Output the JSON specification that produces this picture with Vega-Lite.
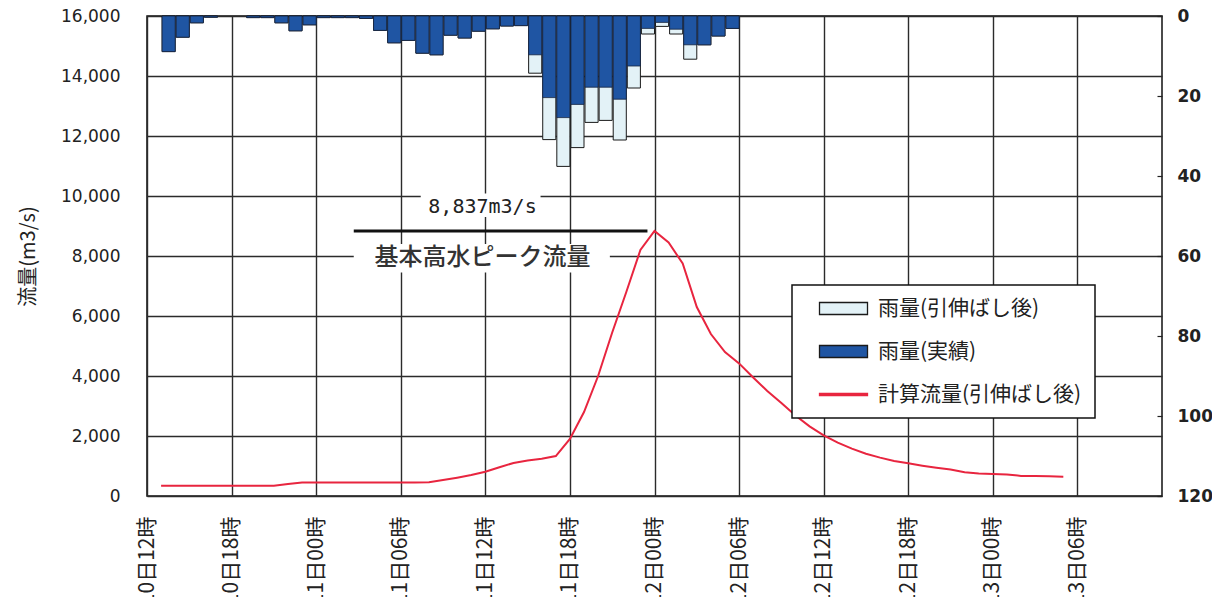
{
  "$schema": "https://vega.github.io/schema/vega-lite/v6.json",
  "width": 1015,
  "height": 480,
  "autosize": "none",
  "padding": {"left": 147, "top": 16, "right": 50, "bottom": 101},
  "background": "white",
  "datasets": {
    "rain": [
      {"time": "2000-01-10T13:00", "actual": 8.9, "extended": 8.9},
      {"time": "2000-01-10T14:00", "actual": 5.3, "extended": 5.3},
      {"time": "2000-01-10T15:00", "actual": 1.7, "extended": 1.7},
      {"time": "2000-01-10T16:00", "actual": 0.3, "extended": 0.3},
      {"time": "2000-01-10T19:00", "actual": 0.4, "extended": 0.4},
      {"time": "2000-01-10T20:00", "actual": 0.4, "extended": 0.4},
      {"time": "2000-01-10T21:00", "actual": 1.7, "extended": 1.7},
      {"time": "2000-01-10T22:00", "actual": 3.7, "extended": 3.7},
      {"time": "2000-01-10T23:00", "actual": 2.2, "extended": 2.2},
      {"time": "2000-01-11T00:00", "actual": 0.4, "extended": 0.4},
      {"time": "2000-01-11T01:00", "actual": 0.4, "extended": 0.4},
      {"time": "2000-01-11T02:00", "actual": 0.4, "extended": 0.4},
      {"time": "2000-01-11T03:00", "actual": 0.6, "extended": 0.6},
      {"time": "2000-01-11T04:00", "actual": 3.6, "extended": 3.6},
      {"time": "2000-01-11T05:00", "actual": 6.7, "extended": 6.7},
      {"time": "2000-01-11T06:00", "actual": 6.1, "extended": 6.1},
      {"time": "2000-01-11T07:00", "actual": 9.3, "extended": 9.3},
      {"time": "2000-01-11T08:00", "actual": 9.7, "extended": 9.7},
      {"time": "2000-01-11T09:00", "actual": 4.8, "extended": 4.8},
      {"time": "2000-01-11T10:00", "actual": 5.5, "extended": 5.5},
      {"time": "2000-01-11T11:00", "actual": 3.8, "extended": 3.8},
      {"time": "2000-01-11T12:00", "actual": 3.2, "extended": 3.2},
      {"time": "2000-01-11T13:00", "actual": 2.5, "extended": 2.5},
      {"time": "2000-01-11T14:00", "actual": 2.4, "extended": 2.4},
      {"time": "2000-01-11T15:00", "actual": 9.7, "extended": 14.3},
      {"time": "2000-01-11T16:00", "actual": 20.4, "extended": 30.9},
      {"time": "2000-01-11T17:00", "actual": 25.4, "extended": 37.6},
      {"time": "2000-01-11T18:00", "actual": 22.1, "extended": 32.9},
      {"time": "2000-01-11T19:00", "actual": 17.8, "extended": 26.6},
      {"time": "2000-01-11T20:00", "actual": 17.8, "extended": 26.1},
      {"time": "2000-01-11T21:00", "actual": 20.8, "extended": 31.0},
      {"time": "2000-01-11T22:00", "actual": 12.5, "extended": 18.0},
      {"time": "2000-01-11T23:00", "actual": 3.1, "extended": 4.5},
      {"time": "2000-01-12T00:00", "actual": 1.6, "extended": 2.6},
      {"time": "2000-01-12T01:00", "actual": 3.3, "extended": 4.5},
      {"time": "2000-01-12T02:00", "actual": 7.2, "extended": 10.8},
      {"time": "2000-01-12T03:00", "actual": 7.2, "extended": 7.2},
      {"time": "2000-01-12T04:00", "actual": 5.0, "extended": 5.0},
      {"time": "2000-01-12T05:00", "actual": 3.1, "extended": 3.1}
    ],
    "flow": [
      {"time": "2000-01-10T13:00", "flow": 340},
      {"time": "2000-01-10T14:00", "flow": 340},
      {"time": "2000-01-10T15:00", "flow": 340},
      {"time": "2000-01-10T16:00", "flow": 340},
      {"time": "2000-01-10T17:00", "flow": 340},
      {"time": "2000-01-10T18:00", "flow": 340},
      {"time": "2000-01-10T19:00", "flow": 340},
      {"time": "2000-01-10T20:00", "flow": 342},
      {"time": "2000-01-10T21:00", "flow": 345},
      {"time": "2000-01-10T22:00", "flow": 400},
      {"time": "2000-01-10T23:00", "flow": 450},
      {"time": "2000-01-11T00:00", "flow": 450},
      {"time": "2000-01-11T01:00", "flow": 450},
      {"time": "2000-01-11T02:00", "flow": 450},
      {"time": "2000-01-11T03:00", "flow": 450},
      {"time": "2000-01-11T04:00", "flow": 450},
      {"time": "2000-01-11T05:00", "flow": 450},
      {"time": "2000-01-11T06:00", "flow": 450},
      {"time": "2000-01-11T07:00", "flow": 452},
      {"time": "2000-01-11T08:00", "flow": 460},
      {"time": "2000-01-11T09:00", "flow": 530},
      {"time": "2000-01-11T10:00", "flow": 610},
      {"time": "2000-01-11T11:00", "flow": 700},
      {"time": "2000-01-11T12:00", "flow": 810},
      {"time": "2000-01-11T13:00", "flow": 960},
      {"time": "2000-01-11T14:00", "flow": 1100},
      {"time": "2000-01-11T15:00", "flow": 1180},
      {"time": "2000-01-11T16:00", "flow": 1240},
      {"time": "2000-01-11T17:00", "flow": 1330},
      {"time": "2000-01-11T18:00", "flow": 1900},
      {"time": "2000-01-11T19:00", "flow": 2800},
      {"time": "2000-01-11T20:00", "flow": 4000},
      {"time": "2000-01-11T21:00", "flow": 5450},
      {"time": "2000-01-11T22:00", "flow": 6800},
      {"time": "2000-01-11T23:00", "flow": 8200},
      {"time": "2000-01-12T00:00", "flow": 8837},
      {"time": "2000-01-12T01:00", "flow": 8450},
      {"time": "2000-01-12T02:00", "flow": 7750},
      {"time": "2000-01-12T03:00", "flow": 6300},
      {"time": "2000-01-12T04:00", "flow": 5400},
      {"time": "2000-01-12T05:00", "flow": 4800},
      {"time": "2000-01-12T06:00", "flow": 4420},
      {"time": "2000-01-12T07:00", "flow": 3950},
      {"time": "2000-01-12T08:00", "flow": 3500},
      {"time": "2000-01-12T09:00", "flow": 3100},
      {"time": "2000-01-12T10:00", "flow": 2680},
      {"time": "2000-01-12T11:00", "flow": 2320},
      {"time": "2000-01-12T12:00", "flow": 2020},
      {"time": "2000-01-12T13:00", "flow": 1780},
      {"time": "2000-01-12T14:00", "flow": 1580},
      {"time": "2000-01-12T15:00", "flow": 1410},
      {"time": "2000-01-12T16:00", "flow": 1280},
      {"time": "2000-01-12T17:00", "flow": 1170},
      {"time": "2000-01-12T18:00", "flow": 1090},
      {"time": "2000-01-12T19:00", "flow": 1010},
      {"time": "2000-01-12T20:00", "flow": 940},
      {"time": "2000-01-12T21:00", "flow": 880},
      {"time": "2000-01-12T22:00", "flow": 790},
      {"time": "2000-01-12T23:00", "flow": 750},
      {"time": "2000-01-13T00:00", "flow": 735},
      {"time": "2000-01-13T01:00", "flow": 720},
      {"time": "2000-01-13T02:00", "flow": 670},
      {"time": "2000-01-13T03:00", "flow": 665},
      {"time": "2000-01-13T04:00", "flow": 655},
      {"time": "2000-01-13T05:00", "flow": 645}
    ],
    "boxes": [
      {"start": "2000-01-11T07:25", "end": "2000-01-11T15:55", "low": 9300, "high": 10080},
      {"start": "2000-01-11T02:40", "end": "2000-01-11T20:50", "low": 7450, "high": 8400}
    ],
    "peakline": [
      {"start": "2000-01-11T02:40", "end": "2000-01-11T23:30", "flow": 8837}
    ],
    "notes": [
      {"time": "2000-01-11T11:48", "flow": 9630, "kind": "value", "label": "8,837m3/s"},
      {"time": "2000-01-11T11:48", "flow": 7933, "kind": "name", "label": "基本高水ピーク流量"}
    ]
  },
  "layer": [
    {
      "layer": [
        {
          "data": {"name": "rain"},
          "mark": {"type": "bar", "stroke": "#1a1a1a", "strokeWidth": 1},
          "encoding": {
            "x": {
              "field": "time", "type": "temporal", "timeUnit": "yearmonthdatehours", "title": null,
              "scale": {"domain": [{"year": 2000, "month": 1, "date": 10, "hours": 12}, {"year": 2000, "month": 1, "date": 13, "hours": 12}]},
              "axis": {
                "values": [
                  {"year": 2000, "month": 1, "date": 10, "hours": 12},
                  {"year": 2000, "month": 1, "date": 10, "hours": 18},
                  {"year": 2000, "month": 1, "date": 11, "hours": 0},
                  {"year": 2000, "month": 1, "date": 11, "hours": 6},
                  {"year": 2000, "month": 1, "date": 11, "hours": 12},
                  {"year": 2000, "month": 1, "date": 11, "hours": 18},
                  {"year": 2000, "month": 1, "date": 12, "hours": 0},
                  {"year": 2000, "month": 1, "date": 12, "hours": 6},
                  {"year": 2000, "month": 1, "date": 12, "hours": 12},
                  {"year": 2000, "month": 1, "date": 12, "hours": 18},
                  {"year": 2000, "month": 1, "date": 13, "hours": 0},
                  {"year": 2000, "month": 1, "date": 13, "hours": 6}
                ],
                "format": "%d日%H時",
                "labelAngle": 270,
                "labelFontSize": 21,
                "labelFont": "Noto Sans CJK JP",
                "labelPadding": 20,
                "grid": true,
                "labelOverlap": false
              }
            },
            "y": {
              "field": "extended", "type": "quantitative", "title": null,
              "scale": {"domain": [0, 120], "reverse": true, "nice": false},
              "axis": {
                "orient": "right",
                "values": [0, 10, 20, 30, 40, 50, 60, 70, 80, 90, 100, 110, 120],
                "labelExpr": "datum.value % 20 === 0 ? datum.label : ''",
                "grid": false,
                "ticks": true,
                "tickSize": -5,
                "tickColor": "#222",
                "tickWidth": 1.2,
                "labelPadding": 20,
                "labelFont": "DejaVu Sans",
                "labelFontSize": 17,
                "labelFontWeight": "bold",
                "labelAlign": "left"
              }
            },
            "color": {
              "datum": "雨量(引伸ばし後)", "type": "nominal",
              "scale": {"domain": ["雨量(引伸ばし後)", "雨量(実績)", "計算流量(引伸ばし後)"], "range": ["#e3f2f7", "#1f55a3", "#e8253f"]},
              "legend": {
                "orient": "none", "legendX": 645, "legendY": 269, "title": null, "padding": 13,
                "fillColor": "#ffffff", "strokeColor": "#111111",
                "symbolOffset": 28, "labelOffset": 24, "rowPadding": 21,
                "labelFontSize": 21, "labelFont": "Noto Sans CJK JP", "labelColor": "#222222", "labelLimit": 400,
                "symbolSize": 144,
                "symbolType": {"expr": "datum.value === '計算流量(引伸ばし後)' ? 'M-4,-0.18H4V0.18H-4Z' : 'M-4,-1H4V1H-4Z'"},
                "symbolStrokeColor": {"expr": "(datum.index === 2 || datum.value === '計算流量(引伸ばし後)') ? '#e8253f' : '#1a1a1a'"},
                "symbolStrokeWidth": 1.3,
                "symbolOpacity": 1,
                "encode": {
                  "legend": {"update": {"strokeWidth": {"value": 1.5}}},
                  "symbols": {"update": {
                    "stroke": {"signal": "(datum.index === 2 || datum.label === '計算流量(引伸ばし後)' || datum.value === '計算流量(引伸ばし後)') ? '#e8253f' : '#1a1a1a'"},
                    "strokeWidth": {"value": 1.3}
                  }}
                }
              }
            }
          }
        },
        {
          "data": {"name": "rain"},
          "mark": {"type": "bar", "stroke": "#15233f", "strokeWidth": 0.8},
          "encoding": {
            "x": {"field": "time", "type": "temporal", "timeUnit": "yearmonthdatehours", "title": null},
            "y": {"field": "actual", "type": "quantitative", "title": null},
            "color": {
              "datum": "雨量(実績)", "type": "nominal",
              "legend": {
                "orient": "none", "legendX": 645, "legendY": 269, "title": null, "padding": 13,
                "fillColor": "#ffffff", "strokeColor": "#111111",
                "symbolOffset": 28, "labelOffset": 24, "rowPadding": 21,
                "labelFontSize": 21, "labelFont": "Noto Sans CJK JP", "labelColor": "#222222", "labelLimit": 400,
                "symbolSize": 144,
                "symbolType": {"expr": "datum.value === '計算流量(引伸ばし後)' ? 'M-4,-0.18H4V0.18H-4Z' : 'M-4,-1H4V1H-4Z'"},
                "symbolStrokeColor": {"expr": "(datum.index === 2 || datum.value === '計算流量(引伸ばし後)') ? '#e8253f' : '#1a1a1a'"},
                "symbolStrokeWidth": 1.3,
                "symbolOpacity": 1,
                "encode": {
                  "legend": {"update": {"strokeWidth": {"value": 1.5}}},
                  "symbols": {"update": {
                    "stroke": {"signal": "(datum.index === 2 || datum.label === '計算流量(引伸ばし後)' || datum.value === '計算流量(引伸ばし後)') ? '#e8253f' : '#1a1a1a'"},
                    "strokeWidth": {"value": 1.3}
                  }}
                }
              }
            }
          }
        }
      ]
    },
    {
      "layer": [
        {
          "data": {"name": "flow"},
          "mark": {"type": "line", "strokeWidth": 2, "color": "#e8253f"},
          "encoding": {
            "x": {"field": "time", "type": "temporal", "title": null},
            "y": {
              "field": "flow", "type": "quantitative", "title": "流量(m3/s)",
              "scale": {"domain": [0, 16000], "nice": false},
              "axis": {
                "orient": "left",
                "values": [0, 2000, 4000, 6000, 8000, 10000, 12000, 14000, 16000],
                "labelExpr": "format(datum.value, ',')",
                "grid": true,
                "labelFont": "DejaVu Sans",
                "labelFontSize": 17,
                "labelPadding": 27,
                "titleFont": "Noto Sans CJK JP",
                "titleFontSize": 20,
                "titleFontWeight": "normal",
                "titlePadding": 22
              }
            }
          }
        },
        {
          "data": {"name": "boxes"},
          "mark": {"type": "rect", "fill": "#ffffff"},
          "encoding": {
            "x": {"field": "start", "type": "temporal", "title": null},
            "x2": {"field": "end"},
            "y": {"field": "low", "type": "quantitative", "title": "流量(m3/s)"},
            "y2": {"field": "high"}
          }
        },
        {
          "data": {"name": "peakline"},
          "mark": {"type": "rule", "stroke": "#111111", "strokeWidth": 3},
          "encoding": {
            "x": {"field": "start", "type": "temporal", "title": null},
            "x2": {"field": "end"},
            "y": {"field": "flow", "type": "quantitative", "title": "流量(m3/s)"}
          }
        },
        {
          "data": {"name": "notes"},
          "transform": [{"filter": "datum.kind === 'value'"}],
          "mark": {"type": "text", "font": "DejaVu Sans Mono", "fontSize": 20, "color": "#222222", "align": "center", "baseline": "middle"},
          "encoding": {
            "x": {"field": "time", "type": "temporal", "title": null},
            "y": {"field": "flow", "type": "quantitative", "title": "流量(m3/s)"},
            "text": {"field": "label"}
          }
        },
        {
          "data": {"name": "notes"},
          "transform": [{"filter": "datum.kind === 'name'"}],
          "mark": {"type": "text", "font": "Noto Sans CJK JP", "fontSize": 24, "fontWeight": 500, "color": "#333333", "align": "center", "baseline": "middle"},
          "encoding": {
            "x": {"field": "time", "type": "temporal", "title": null},
            "y": {"field": "flow", "type": "quantitative", "title": "流量(m3/s)"},
            "text": {"field": "label"}
          }
        }
      ]
    }
  ],
  "resolve": {"scale": {"y": "independent"}, "axis": {"y": "independent"}},
  "config": {
    "font": "Noto Sans CJK JP",
    "view": {"stroke": "#111111", "strokeWidth": 1.5},
    "legend": {"strokeWidth": 1.5},
    "axis": {
      "domain": false,
      "ticks": false,
      "gridColor": "#2b2b2b",
      "gridWidth": 1.4,
      "gridOpacity": 1,
      "labelColor": "#222222",
      "titleColor": "#222222"
    }
  }
}
